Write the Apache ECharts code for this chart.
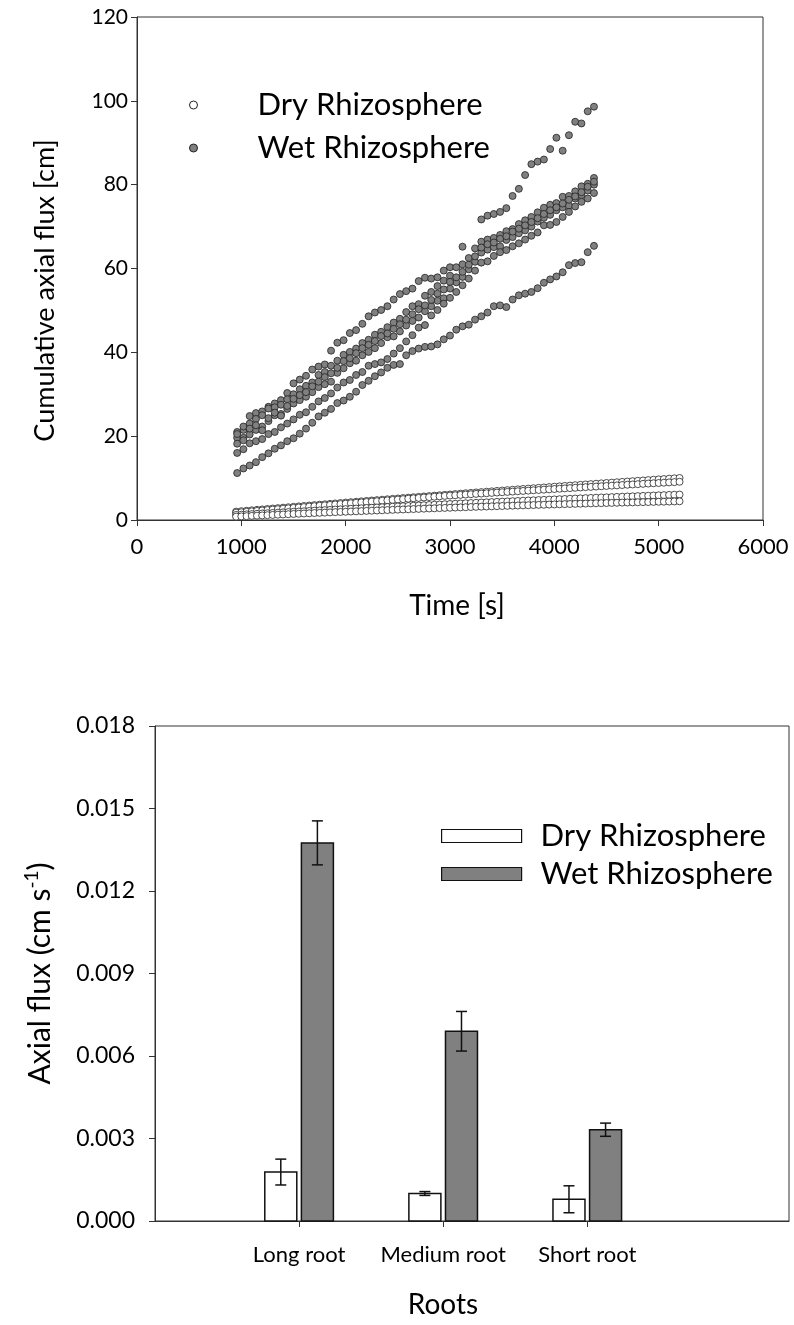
<!DOCTYPE html>
<html>
<head>
<meta charset="utf-8">
<script src="https://cdn.jsdelivr.net/npm/echarts@6/dist/echarts.min.js"></script>
<style>
html,body{margin:0;padding:0;background:#fff;}
#c{width:794px;height:1325px;}
</style>
</head>
<body>
<div id="c"></div>
<script>
// ---------- Panel A: cumulative axial flux vs time ----------
const dryTime = [
950,1000,1050,1100,1150,1200,1250,1300,1350,1400,
1450,1500,1550,1600,1650,1700,1750,1800,1850,1900,
1950,2000,2050,2100,2150,2200,2250,2300,2350,2400,
2450,2500,2550,2600,2650,2700,2750,2800,2850,2900,
2950,3000,3050,3100,3150,3200,3250,3300,3350,3400,
3450,3500,3550,3600,3650,3700,3750,3800,3850,3900,
3950,4000,4050,4100,4150,4200,4250,4300,4350,4400,
4450,4500,4550,4600,4650,4700,4750,4800,4850,4900,
4950,5000,5050,5100,5150,5200];
const dry1 = [
2.00,2.10,2.21,2.31,2.42,2.52,2.63,2.73,2.83,2.94,
3.04,3.14,3.24,3.34,3.45,3.55,3.65,3.75,3.85,3.95,
4.05,4.15,4.25,4.35,4.45,4.55,4.65,4.74,4.84,4.94,
5.04,5.13,5.23,5.33,5.43,5.52,5.62,5.71,5.81,5.90,
6.00,6.09,6.19,6.28,6.38,6.47,6.57,6.66,6.75,6.84,
6.94,7.03,7.12,7.21,7.31,7.40,7.49,7.58,7.67,7.76,
7.85,7.94,8.03,8.12,8.21,8.30,8.39,8.48,8.56,8.65,
8.74,8.83,8.91,9.00,9.09,9.17,9.26,9.35,9.43,9.52,
9.60,9.69,9.77,9.86,9.94,10.02];
const dry2 = [
1.75,1.85,1.96,2.06,2.17,2.27,2.38,2.48,2.58,2.69,
2.79,2.89,2.99,3.09,3.20,3.30,3.40,3.50,3.60,3.70,
3.80,3.90,4.00,4.10,4.20,4.30,4.40,4.49,4.59,4.69,
4.79,4.88,4.98,5.08,5.18,5.27,5.37,5.46,5.56,5.65,
5.75,5.83,5.91,5.99,6.07,6.15,6.23,6.31,6.38,6.46,
6.55,6.63,6.70,6.78,6.86,6.93,7.01,7.09,7.16,7.24,
7.31,7.39,7.46,7.54,7.61,7.69,7.76,7.84,7.90,7.98,
8.05,8.12,8.19,8.26,8.34,8.41,8.48,8.55,8.62,8.69,
8.76,8.83,8.90,8.97,9.04,9.12];
const dry3 = [
1.20,1.27,1.34,1.41,1.48,1.55,1.61,1.68,1.75,1.82,
1.89,1.95,2.02,2.08,2.15,2.22,2.28,2.35,2.41,2.48,
2.54,2.60,2.67,2.73,2.79,2.86,2.92,2.98,3.04,3.10,
3.17,3.23,3.29,3.35,3.41,3.47,3.53,3.58,3.64,3.70,
3.76,3.82,3.87,3.93,3.99,4.05,4.10,4.16,4.21,4.27,
4.33,4.38,4.43,4.49,4.54,4.60,4.65,4.70,4.76,4.81,
4.86,4.91,4.96,5.01,5.07,5.12,5.17,5.22,5.27,5.32,
5.37,5.41,5.46,5.51,5.56,5.61,5.65,5.70,5.75,5.79,
5.84,5.89,5.93,5.98,6.02,6.07];
const dry4 = [
0.80,0.86,0.92,0.98,1.04,1.09,1.15,1.21,1.27,1.32,
1.38,1.44,1.49,1.55,1.60,1.66,1.71,1.76,1.82,1.87,
1.92,1.97,2.02,2.07,2.12,2.18,2.22,2.27,2.32,2.37,
2.42,2.47,2.51,2.56,2.61,2.65,2.70,2.75,2.79,2.84,
2.88,2.92,2.97,3.01,3.05,3.10,3.14,3.18,3.22,3.26,
3.30,3.34,3.38,3.42,3.46,3.49,3.53,3.57,3.61,3.64,
3.68,3.71,3.75,3.79,3.82,3.85,3.89,3.92,3.96,3.99,
4.02,4.05,4.08,4.11,4.15,4.18,4.20,4.23,4.26,4.29,
4.32,4.35,4.37,4.40,4.43,4.46];

const wetTime = [
960,1020,1080,1140,1200,1260,1320,1380,1440,1500,
1560,1620,1680,1740,1800,1860,1920,1980,2040,2100,
2160,2220,2280,2340,2400,2460,2520,2580,2640,2700,
2760,2820,2880,2940,3000,3060,3120,3180,3240,3300,
3360,3420,3480,3540,3600,3660,3720,3780,3840,3900,
3960,4020,4080,4140,4200,4260,4320,4380];
const wet1 = [
19.6,21.5,24.8,25.5,25.9,27.0,27.8,28.6,30.3,32.6,
33.5,34.4,35.9,36.6,37.1,40.4,42.3,42.9,44.6,45.3,
46.8,48.6,49.5,50.1,51.0,52.6,53.9,54.6,55.2,57.0,
57.8,57.6,57.9,59.5,60.3,null,65.2,null,null,71.7,
72.6,73.0,73.5,74.4,77.3,79.0,82.3,84.9,85.5,86.0,
88.5,91.2,88.1,91.8,95.0,94.6,97.5,98.6];
const wet2 = [
21.0,22.3,23.0,24.1,25.0,26.6,26.9,27.5,28.8,30.0,
31.2,32.0,32.8,34.6,35.3,36.8,38.0,39.4,40.1,40.9,
42.2,43.0,44.2,44.9,46.0,47.1,48.0,49.6,51.0,51.5,
53.5,54.4,55.8,57.1,58.3,60.3,61.0,62.5,64.8,66.4,
66.9,67.3,68.0,68.9,69.4,70.6,71.5,72.3,73.4,74.5,
75.2,75.6,77.1,77.3,78.4,79.6,80.2,81.6];
const wet3 = [
18.2,19.6,20.4,21.5,22.3,23.6,25.0,25.3,26.5,27.8,
28.6,29.4,30.5,31.7,32.4,33.0,35.1,36.2,37.4,38.0,
39.3,40.1,41.0,42.2,43.6,43.8,45.0,46.4,47.5,48.3,
49.8,51.0,52.3,52.9,55.2,56.7,58.0,59.8,61.6,63.8,
64.5,65.1,65.3,66.8,67.5,68.4,69.1,70.0,71.2,72.1,
72.8,73.9,74.6,75.0,76.7,77.5,78.6,80.0];
const wet4 = [
16.0,16.9,18.3,18.8,19.3,20.5,21.0,22.1,23.0,24.0,
25.1,25.7,27.0,28.3,29.1,30.2,31.6,32.8,33.4,34.6,
35.3,36.8,37.2,37.6,38.4,39.7,41.0,42.6,44.1,45.9,
46.5,48.8,50.1,51.6,53.0,54.4,56.0,57.6,59.5,61.4,
61.7,63.0,63.9,64.4,65.3,66.0,66.9,67.8,68.6,70.3,
70.4,71.1,72.3,73.5,74.8,75.9,76.7,78.0];
const wet5 = [
11.2,12.3,13.0,13.8,15.0,15.9,17.0,17.8,18.8,19.5,
20.6,21.8,23.2,24.7,25.6,26.5,27.9,28.5,29.4,30.6,
32.2,33.2,34.3,35.2,36.3,37.0,37.2,39.3,40.3,40.9,
41.3,41.4,41.9,43.1,44.0,45.4,46.2,46.6,47.8,48.6,
49.5,51.0,51.2,50.8,52.6,53.6,54.0,54.4,55.3,56.6,
57.4,58.1,59.1,60.8,61.3,61.5,63.9,65.4];
const wet6 = [
20.5,19.0,21.8,22.6,21.4,24.3,25.6,24.9,27.2,28.9,
29.8,30.5,31.9,33.0,34.1,35.0,36.3,37.9,38.6,39.8,
41.0,41.8,42.7,43.9,44.5,45.6,46.7,47.8,49.1,50.3,
51.2,52.5,54.0,55.0,56.8,57.9,59.2,60.9,62.9,65.0,
65.8,66.2,67.1,67.7,68.8,69.5,70.3,71.1,72.0,73.0,
73.9,74.6,75.5,76.4,77.2,78.2,79.5,80.7];

// ---------- Panel B: axial flux per root ----------
const roots = ['Long root', 'Medium root', 'Short root'];
const dryMean = [0.00178, 0.00100, 0.00079];
const dryErr  = [0.00047, 0.00007, 0.00049];
const wetMean = [0.01375, 0.00690, 0.00332];
const wetErr  = [0.00080, 0.00072, 0.00024];

const FONT = 'Lato';

function pairs(t, v) {
  const out = [];
  for (let i = 0; i < t.length; i++) if (v[i] != null) out.push([t[i], v[i]]);
  return out;
}
const dryPts = [].concat(pairs(dryTime, dry1), pairs(dryTime, dry2), pairs(dryTime, dry3), pairs(dryTime, dry4));
const wetPts = [].concat(pairs(wetTime, wet1), pairs(wetTime, wet2), pairs(wetTime, wet3),
                         pairs(wetTime, wet4), pairs(wetTime, wet5), pairs(wetTime, wet6));

function barData(mean, err) {
  return mean.map((m, i) => [i + 1, m, err[i]]);
}
function barRender(offset, fill) {
  return function (params, api) {
    const x = api.value(0), m = api.value(1), e = api.value(2);
    const base = api.coord([x, 0]);
    const top = api.coord([x, m]);
    const hi = api.coord([x, m + e]);
    const lo = api.coord([x, m - e]);
    const cx = base[0] + offset;
    const w = 32;
    const ln = { stroke: '#111', lineWidth: 1.5 };
    return {
      type: 'group',
      children: [
        { type: 'rect', shape: { x: cx - w / 2, y: top[1], width: w, height: base[1] - top[1] },
          style: { fill: fill, stroke: '#111', lineWidth: 1.5 } },
        { type: 'line', shape: { x1: cx, y1: hi[1], x2: cx, y2: lo[1] }, style: ln },
        { type: 'line', shape: { x1: cx - 5.5, y1: hi[1], x2: cx + 5.5, y2: hi[1] }, style: ln },
        { type: 'line', shape: { x1: cx - 5.5, y1: lo[1], x2: cx + 5.5, y2: lo[1] }, style: ln }
      ]
    };
  };
}

const axisLineStyle = { lineStyle: { color: '#333', width: 1 } };

const option = {
  animation: false,
  backgroundColor: '#fff',
  textStyle: { fontFamily: FONT, color: '#000' },
  grid: [
    { left: 137, top: 17, width: 626, height: 503, show: true, borderColor: '#333', borderWidth: 1 },
    { left: 155, top: 726, width: 634, height: 495, show: true, borderColor: '#333', borderWidth: 1 }
  ],
  legend: [
    {
      orient: 'vertical', left: 189, top: 88, padding: 0, itemWidth: 8, itemHeight: 8, itemGap: 9,
      selectedMode: false,
      textStyle: { fontFamily: FONT, fontSize: 31, color: '#000', lineHeight: 34, padding: [0, 0, 0, 55] },
      data: [
        { name: 'Dry Rhizosphere', icon: 'circle', itemStyle: { color: '#fff', borderColor: '#222', borderWidth: 1 } },
        { name: 'Wet Rhizosphere', icon: 'circle', itemStyle: { color: '#808080', borderColor: '#222', borderWidth: 1 } }
      ]
    },
    {
      orient: 'vertical', left: 441, top: 819, padding: 0, itemWidth: 80, itemHeight: 13, itemGap: 4,
      selectedMode: false,
      textStyle: { fontFamily: FONT, fontSize: 31, color: '#000', lineHeight: 34, padding: [0, 0, 0, 14] },
      data: [
        { name: 'Dry Rhizosphere', icon: 'rect', itemStyle: { color: '#fff', borderColor: '#111', borderWidth: 1.2 } },
        { name: 'Wet Rhizosphere', icon: 'rect', itemStyle: { color: '#808080', borderColor: '#111', borderWidth: 1.2 } }
      ]
    }
  ],
  xAxis: [
    {
      gridIndex: 0, type: 'value', min: 0, max: 6000, interval: 1000,
      name: 'Time [s]', nameLocation: 'middle', nameGap: 72,
      nameTextStyle: { fontFamily: FONT, fontSize: 28, color: '#000', padding: [0, 0, 0, 14] },
      axisLine: axisLineStyle,
      axisTick: { show: true, inside: false, length: 6, lineStyle: { color: '#333' } },
      axisLabel: { fontFamily: FONT, fontSize: 22, color: '#000', margin: 16, formatter: v => String(v) },
      splitLine: { show: false }
    },
    {
      gridIndex: 1, type: 'value', min: 0, max: 4.4,
      name: 'Roots', nameLocation: 'middle', nameGap: 70,
      nameTextStyle: { fontFamily: FONT, fontSize: 28, color: '#000', padding: [0, 58, 0, 0] },
      axisLine: axisLineStyle,
      axisTick: { show: true, inside: false, length: 6, customValues: [1, 2, 3], lineStyle: { color: '#333' } },
      axisLabel: {
        fontFamily: FONT, fontSize: 22, color: '#000', margin: 23, customValues: [1, 2, 3],
        formatter: v => roots[Math.round(v) - 1] || ''
      },
      splitLine: { show: false }
    }
  ],
  yAxis: [
    {
      gridIndex: 0, type: 'value', min: 0, max: 120, interval: 20,
      name: 'Cumulative axial flux [cm]', nameLocation: 'middle', nameGap: 78, nameRotate: 90,
      nameTextStyle: { fontFamily: FONT, fontSize: 27, color: '#000', padding: [0, 44, 0, 0] },
      axisLine: { show: true, lineStyle: { color: '#333', width: 1 } },
      axisTick: { show: true, inside: false, length: 6, lineStyle: { color: '#333' } },
      axisLabel: { fontFamily: FONT, fontSize: 21, color: '#000', margin: 9 },
      splitLine: { show: false }
    },
    {
      gridIndex: 1, type: 'value', min: 0, max: 0.018, interval: 0.003,
      name: '{a|Axial flux (cm s}{b|-1}{a|)}', nameLocation: 'middle', nameGap: 97, nameRotate: 90,
      nameTextStyle: {
        fontFamily: FONT, fontSize: 30, color: '#000',
        rich: {
          a: { fontFamily: FONT, fontSize: 30, color: '#000', lineHeight: 36 },
          b: { fontFamily: FONT, fontSize: 19, color: '#000', lineHeight: 36, verticalAlign: 'top', padding: [0, 0, 12, 0] }
        }
      },
      axisLine: { show: true, lineStyle: { color: '#333', width: 1 } },
      axisTick: { show: true, inside: false, length: 6, lineStyle: { color: '#333' } },
      axisLabel: { fontFamily: FONT, fontSize: 23, color: '#000', margin: 20, formatter: v => v.toFixed(3) },
      splitLine: { show: false }
    }
  ],
  series: [
    {
      name: 'Dry Rhizosphere', type: 'scatter', xAxisIndex: 0, yAxisIndex: 0,
      symbol: 'circle', symbolSize: 7, data: dryPts,
      itemStyle: { color: '#fff', borderColor: '#222', borderWidth: 0.8, opacity: 1 }
    },
    {
      name: 'Wet Rhizosphere', type: 'scatter', xAxisIndex: 0, yAxisIndex: 0,
      symbol: 'circle', symbolSize: 7, data: wetPts,
      itemStyle: { color: '#808080', borderColor: '#222', borderWidth: 0.8, opacity: 1 }
    },
    {
      name: 'Dry Rhizosphere', type: 'custom', xAxisIndex: 1, yAxisIndex: 1,
      data: barData(dryMean, dryErr), renderItem: barRender(-18.3, '#fff'),
      itemStyle: { color: '#fff' }
    },
    {
      name: 'Wet Rhizosphere', type: 'custom', xAxisIndex: 1, yAxisIndex: 1,
      data: barData(wetMean, wetErr), renderItem: barRender(18.3, '#808080'),
      itemStyle: { color: '#808080' }
    }
  ]
};

const chart = echarts.init(document.getElementById('c'), null, { renderer: 'canvas' });
chart.setOption(option);
</script>
</body>
</html>
